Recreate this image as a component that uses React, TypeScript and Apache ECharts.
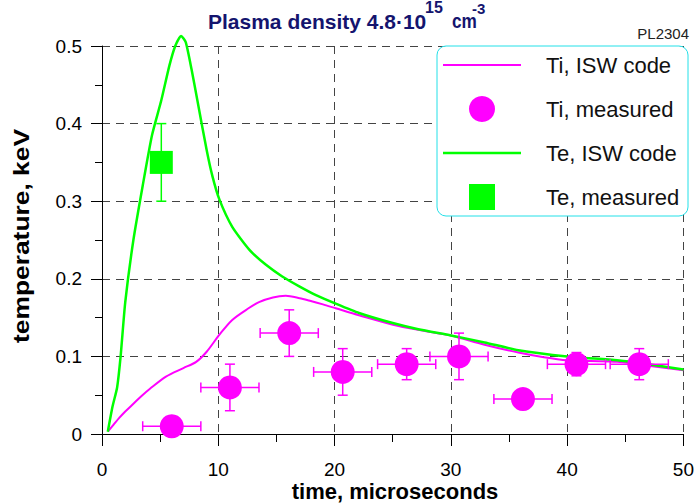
import React, { useEffect, useRef } from "react";
import * as echarts from "echarts";

// ---- data ----
const tiCodeT = [0.5, 1.0, 1.5, 2.0, 2.7, 3.4, 4.1, 5.5, 7.0, 8.1, 9.0, 10.1, 11.2, 12.6, 13.5, 14.7, 15.8, 17.0, 17.8, 19.0, 20.1, 22.1, 25.5, 28.4, 30.0, 32.9, 35.8, 38.0, 40.0, 42.0, 44.3, 46.0, 48.0, 50.0];
const tiCodeV = [0.003, 0.012, 0.021, 0.029, 0.039, 0.049, 0.058, 0.074, 0.085, 0.093, 0.106, 0.128, 0.147, 0.162, 0.17, 0.176, 0.178, 0.175, 0.172, 0.167, 0.162, 0.153, 0.139, 0.131, 0.127, 0.115, 0.105, 0.099, 0.095, 0.094, 0.093, 0.09, 0.086, 0.082];

const teCodeT = [0.5, 0.9, 1.3, 1.6, 2.0, 2.7, 3.5, 4.3, 5.1, 5.8, 6.3, 6.8, 7.2, 7.7, 8.2, 9.0, 9.5, 10.1, 11.2, 12.7, 14.1, 15.5, 17.0, 18.4, 20.1, 22.1, 25.0, 27.2, 30.0, 32.9, 35.8, 40.0, 44.3, 47.0, 50.0];
const teCodeV = [0.003, 0.035, 0.06, 0.1, 0.17, 0.25, 0.32, 0.385, 0.43, 0.475, 0.5, 0.513, 0.505, 0.47, 0.43, 0.366, 0.332, 0.302, 0.267, 0.237, 0.218, 0.203, 0.19, 0.179, 0.168, 0.156, 0.143, 0.135, 0.127, 0.118, 0.108, 0.1, 0.095, 0.09, 0.083];

const tiMeasT = [6.0, 11.0, 16.1, 20.7, 26.2, 30.7, 36.2, 40.8, 46.2];
const tiMeasV = [0.01, 0.06, 0.13, 0.08, 0.09, 0.1, 0.045, 0.09, 0.09];
const tiMeasTErr = [2.5, 2.5, 2.5, 2.5, 2.5, 2.5, 2.5, 2.5, 2.5];
const tiMeasVErr = [0, 0.03, 0.03, 0.03, 0.02, 0.03, 0, 0.015, 0.02];

const teMeasT = [5.1];
const teMeasV = [0.35];
const teMeasTErr = [0];
const teMeasVErr = [0.05];

const xTickLabels = ["0", "10", "20", "30", "40", "50"];
const yTickLabels = ["0", "0.1", "0.2", "0.3", "0.4", "0.5"];

const seriesNames = ["Ti, ISW code", "Ti, measured", "Te, ISW code", "Te, measured"];

const FONT = "'Liberation Sans', Arial, Helvetica, sans-serif";
const MAGENTA = "#ff00ff";
const GREEN = "#00ff00";
const NAVY = "#14146e";

function makeErrRender(color: string) {
  return (params: any, api: any) => {
    const x = api.value(0);
    const y = api.value(1);
    const xe = api.value(2);
    const ye = api.value(3);
    const cap = 5;
    const style = { stroke: color, lineWidth: 1.5 };
    const children: any[] = [];
    if (xe > 0) {
      const l = api.coord([x - xe, y]);
      const r = api.coord([x + xe, y]);
      children.push({ type: "line", shape: { x1: l[0], y1: l[1], x2: r[0], y2: r[1] }, style });
      children.push({ type: "line", shape: { x1: l[0], y1: l[1] - cap, x2: l[0], y2: l[1] + cap }, style });
      children.push({ type: "line", shape: { x1: r[0], y1: r[1] - cap, x2: r[0], y2: r[1] + cap }, style });
    }
    if (ye > 0) {
      const t = api.coord([x, y + ye]);
      const b = api.coord([x, y - ye]);
      children.push({ type: "line", shape: { x1: t[0], y1: t[1], x2: b[0], y2: b[1] }, style });
      children.push({ type: "line", shape: { x1: t[0] - cap, y1: t[1], x2: t[0] + cap, y2: t[1] }, style });
      children.push({ type: "line", shape: { x1: b[0] - cap, y1: b[1], x2: b[0] + cap, y2: b[1] }, style });
    }
    return { type: "group", children };
  };
}

export default function App() {
  const ref = useRef<HTMLDivElement>(null);
  useEffect(() => {
    const chart = echarts.init(ref.current!, null, { renderer: "svg" });
    const tiCode = tiCodeT.map((t, i) => [t, tiCodeV[i]]);
    const teCode = teCodeT.map((t, i) => [t, teCodeV[i]]);
    const tiMeas = tiMeasT.map((t, i) => [t, tiMeasV[i]]);
    const teMeas = teMeasT.map((t, i) => [t, teMeasV[i]]);
    const tiErr = tiMeasT.map((t, i) => [t, tiMeasV[i], tiMeasTErr[i], tiMeasVErr[i]]);
    const teErr = teMeasT.map((t, i) => [t, teMeasV[i], teMeasTErr[i], teMeasVErr[i]]);

    const axisCommon = {
      axisLine: { show: true, onZero: false, lineStyle: { color: "#000", width: 1 } },
      splitLine: { show: true, lineStyle: { color: "#444", type: [8, 6], width: 1 } },
      minorSplitLine: { show: false },
    };

    // hand-drawn legend (box at 437..688 x 46..216)
    const LX = 437, LY = 46, LW = 251, LH = 170;
    const rowY = [65, 109, 153, 197];
    const iconX0 = 443, iconX1 = 521, iconCx = 482, textX = 546;
    const legendEls: any[] = [
      { type: "rect", z: 20, shape: { x: LX, y: LY, width: LW, height: LH, r: 9 }, style: { fill: "#fff", stroke: "#22e0e8", lineWidth: 1 } },
      { type: "line", z: 21, shape: { x1: iconX0, y1: rowY[0], x2: iconX1, y2: rowY[0] }, style: { stroke: MAGENTA, lineWidth: 2 } },
      { type: "circle", z: 21, shape: { cx: iconCx, cy: rowY[1], r: 13 }, style: { fill: MAGENTA } },
      { type: "line", z: 21, shape: { x1: iconX0, y1: rowY[2], x2: iconX1, y2: rowY[2] }, style: { stroke: GREEN, lineWidth: 2.5 } },
      { type: "rect", z: 21, shape: { x: iconCx - 13, y: rowY[3] - 13, width: 26, height: 26 }, style: { fill: GREEN } },
      ...seriesNames.map((n, i) => ({
        type: "text",
        z: 21,
        x: textX,
        y: rowY[i],
        style: { text: n, font: `22px ${FONT}`, fill: "#111", align: "left", verticalAlign: "middle" },
      })),
    ];

    chart.setOption({
      animation: false,
      backgroundColor: "#fff",
      grid: { left: 102, top: 46, width: 584, height: 388, containLabel: false },
      xAxis: {
        type: "value",
        min: 0,
        max: 50,
        interval: 10,
        ...axisCommon,
        axisTick: { show: true, length: 12, lineStyle: { color: "#000" } },
        minorTick: { show: true, splitNumber: 2, length: 8, lineStyle: { color: "#000" } },
        axisLabel: {
          fontFamily: FONT,
          fontSize: 19,
          color: "#000",
          margin: 26,
          formatter: (v: number) => xTickLabels[Math.round(v / 10)] ?? String(v),
        },
      },
      yAxis: {
        type: "value",
        min: 0,
        max: 0.5,
        interval: 0.1,
        ...axisCommon,
        axisTick: { show: true, length: 11, lineStyle: { color: "#000" } },
        minorTick: { show: true, splitNumber: 2, length: 7, lineStyle: { color: "#000" } },
        axisLabel: {
          fontFamily: FONT,
          fontSize: 19,
          color: "#000",
          margin: 20,
          formatter: (v: number) => yTickLabels[Math.round(v * 10)] ?? String(v),
        },
      },
      graphic: [
        { type: "text", x: 208, y: 21, style: { text: "Plasma density 4.8·10", font: `bold 21px ${FONT}`, fill: NAVY, align: "left", verticalAlign: "middle" } },
        { type: "text", x: 425, y: 7, style: { text: "15", font: `bold 16px ${FONT}`, fill: NAVY, align: "left", verticalAlign: "middle" } },
        { type: "text", x: 452, y: 21, scaleX: 0.82, style: { text: "cm", font: `bold 21px ${FONT}`, fill: NAVY, align: "left", verticalAlign: "middle" } },
        { type: "text", x: 472, y: 8, style: { text: "-3", font: `bold 15px ${FONT}`, fill: NAVY, align: "left", verticalAlign: "middle" } },
        { type: "text", x: 689, y: 33, style: { text: "PL2304", font: `15px ${FONT}`, fill: "#222", align: "right", verticalAlign: "middle" } },
        { type: "text", x: 395, y: 491, style: { text: "time, microseconds", font: `bold 22px ${FONT}`, fill: "#000", align: "center", verticalAlign: "middle" } },
        { type: "text", x: 21, y: 236, rotation: Math.PI / 2, scaleX: 1.2, style: { text: "temperature, keV", font: `bold 22px ${FONT}`, fill: "#000", align: "center", verticalAlign: "middle" } },
        ...legendEls,
      ],
      series: [
        {
          name: "Ti, ISW code",
          type: "line",
          data: tiCode,
          symbol: "none",
          smooth: 0.3,
          clip: false,
          lineStyle: { color: MAGENTA, width: 2 },
          itemStyle: { color: MAGENTA },
          z: 3,
        },
        {
          name: "Te, ISW code",
          type: "line",
          data: teCode,
          symbol: "none",
          smooth: 0.2,
          clip: false,
          lineStyle: { color: GREEN, width: 2.5 },
          itemStyle: { color: GREEN },
          z: 3,
        },
        {
          name: "Ti err",
          type: "custom",
          renderItem: makeErrRender(MAGENTA),
          data: tiErr,
          encode: { x: 0, y: 1 },
          z: 4,
          silent: true,
        },
        {
          name: "Te err",
          type: "custom",
          renderItem: makeErrRender(GREEN),
          data: teErr,
          encode: { x: 0, y: 1 },
          z: 4,
          silent: true,
        },
        {
          name: "Ti, measured",
          type: "scatter",
          data: tiMeas,
          symbol: "circle",
          symbolSize: 24,
          itemStyle: { color: MAGENTA, opacity: 1 },
          z: 5,
        },
        {
          name: "Te, measured",
          type: "scatter",
          data: teMeas,
          symbol: "rect",
          symbolSize: 23,
          itemStyle: { color: GREEN, opacity: 1 },
          z: 5,
        },
      ],
    });
    return () => chart.dispose();
  }, []);
  return <div ref={ref} style={{ position: "absolute", left: 0, top: 0, width: 697, height: 504 }} />;
}
